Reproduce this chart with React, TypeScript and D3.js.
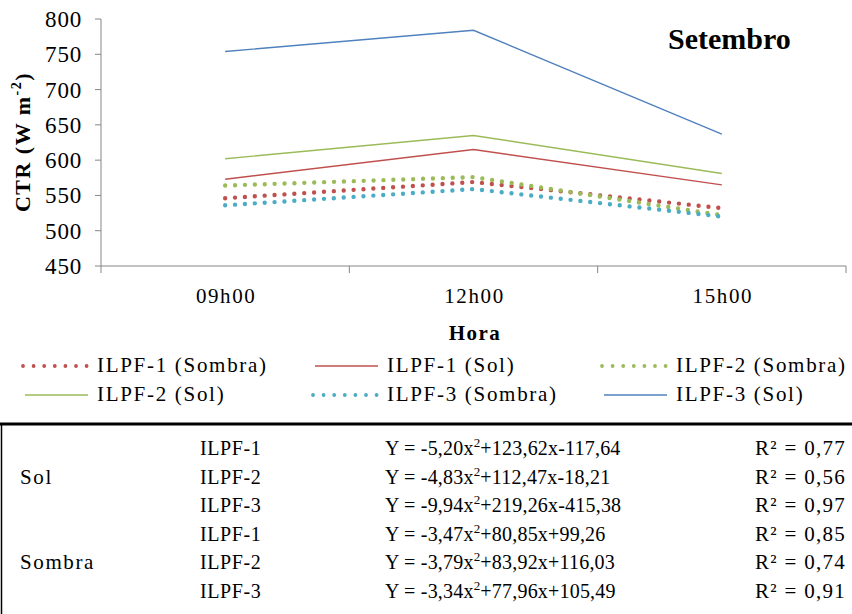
import React from 'react';
import * as d3 from 'd3';

const hours = ['09h00', '12h00', '15h00'];
const yTicks = [450, 500, 550, 600, 650, 700, 750, 800];

const ilpf1Sombra = [546, 569, 532];
const ilpf1Sol = [573, 615, 565];
const ilpf2Sombra = [564, 576, 522];
const ilpf2Sol = [602, 635, 581];
const ilpf3Sombra = [536, 559, 520];
const ilpf3Sol = [754, 784, 637];

const seriesNames = ['ILPF-1 (Sombra)', 'ILPF-1 (Sol)', 'ILPF-2 (Sombra)', 'ILPF-2 (Sol)', 'ILPF-3 (Sombra)', 'ILPF-3 (Sol)'];
const seriesValues = [ilpf1Sombra, ilpf1Sol, ilpf2Sombra, ilpf2Sol, ilpf3Sombra, ilpf3Sol];
const seriesColors = ['#C0504D', '#C0504D', '#9BBB59', '#9BBB59', '#4BACC6', '#4F81BD'];
const seriesDotted = [true, false, true, false, true, false];

const fitGroups = ['Sol', 'Sombra'];
const fitSystems = ['ILPF-1', 'ILPF-2', 'ILPF-3', 'ILPF-1', 'ILPF-2', 'ILPF-3'];
const fitA = ['-5,20', '-4,83', '-9,94', '-3,47', '-3,79', '-3,34'];
const fitRest = ['+123,62x-117,64', '+112,47x-18,21', '+219,26x-415,38', '+80,85x+99,26', '+83,92x+116,03', '+77,96x+105,49'];
const fitR2 = ['0,77', '0,56', '0,97', '0,85', '0,74', '0,91'];

const W = 852, H = 614;
const plot = { left: 101, right: 846, top: 19, bottom: 266 };
const font = '"Liberation Serif", "Times New Roman", serif';
const axisColor = '#868686';

export default function App() {
  const x = d3.scaleBand<string>().domain(hours).range([plot.left, plot.right]).padding(0);
  const y = d3.scaleLinear().domain([450, 800]).range([plot.bottom, plot.top]);
  const line = d3.line<number>()
    .x((_, i) => (x(hours[i]) as number) + x.bandwidth() / 2)
    .y(d => y(d));

  // solid lines first, dotted ones on top
  const order = [1, 3, 5, 0, 2, 4];

  const legendCols = [22, 312, 601];
  const legendRows = [372, 401];

  const rowY = d3.scaleLinear().domain([0, 5]).range([455, 598]);

  return (
    <svg width={W} height={H} style={{ position: 'absolute', left: 0, top: 0, background: '#fff' }}
      fontFamily={font}>
      <rect width={W} height={H} fill="#fff" />

      {/* axes */}
      <line x1={plot.left} x2={plot.left} y1={plot.top} y2={plot.bottom} stroke={axisColor} />
      <line x1={plot.left} x2={plot.right} y1={plot.bottom} y2={plot.bottom} stroke={axisColor} />
      {yTicks.map(t => (
        <g key={t}>
          <line x1={plot.left - 6} x2={plot.left} y1={y(t)} y2={y(t)} stroke={axisColor} />
          <text x={82} y={y(t) + 8} textAnchor="end" fontSize={23} letterSpacing={0.8} fill="#000">{t}</text>
        </g>
      ))}
      {[...hours.map(h => x(h) as number), plot.right].map((p, i) => (
        <line key={i} x1={p} x2={p} y1={plot.bottom} y2={plot.bottom + 7} stroke={axisColor} />
      ))}
      {hours.map(h => (
        <text key={h} x={(x(h) as number) + x.bandwidth() / 2 + 1} y={303} textAnchor="middle"
          fontSize={21} letterSpacing={1.6}>{h}</text>
      ))}
      <text x={475} y={340} textAnchor="middle" fontSize={21} fontWeight="bold" letterSpacing={1.5}>Hora</text>
      <text transform="translate(30,142) rotate(-90)" textAnchor="middle" fontSize={22} fontWeight="bold" letterSpacing={1.5}>
        CTR (W m<tspan fontSize={14} dy={-9}>-2</tspan><tspan dy={9}>)</tspan>
      </text>
      <text x={668} y={49} fontSize={30} fontWeight="bold" letterSpacing={0}>Setembro</text>

      {/* series */}
      {order.map(i => (
        <path key={i} d={line(seriesValues[i]) || ''} fill="none" stroke={seriesColors[i]}
          strokeWidth={seriesDotted[i] ? 4.4 : 1.4}
          strokeDasharray={seriesDotted[i] ? '0 9.9' : undefined}
          strokeLinecap={seriesDotted[i] ? 'round' : 'butt'} />
      ))}

      {/* legend */}
      {seriesNames.map((name, i) => {
        const lx = legendCols[i % 3];
        const ly = legendRows[Math.floor(i / 3)];
        return (
          <g key={name}>
            <line x1={lx + (seriesDotted[i] ? 1 : 3)} x2={lx + 66} y1={ly - 6} y2={ly - 6} stroke={seriesColors[i]}
              strokeWidth={seriesDotted[i] ? 3.8 : 1.4}
              strokeDasharray={seriesDotted[i] ? '0 10.6' : undefined}
              strokeLinecap={seriesDotted[i] ? 'round' : 'butt'} />
            <text x={lx + 75} y={ly} fontSize={21} letterSpacing={1.7}>{name}</text>
          </g>
        );
      })}

      {/* table */}
      <line x1={0} x2={W} y1={424} y2={424} stroke="#000" strokeWidth={3} />
      <line x1={1.5} x2={1.5} y1={424} y2={H} stroke="#000" strokeWidth={1.5} />
      {fitGroups.map((g, gi) => (
        <text key={g} x={20} y={rowY(gi * 3 + 1)} fontSize={21} letterSpacing={1.6}>{g}</text>
      ))}
      {fitSystems.map((s, i) => (
        <g key={i} fontSize={20}>
          <text x={200} y={rowY(i)} letterSpacing={0.6}>{s}</text>
          <text x={385} y={rowY(i)} letterSpacing={0.2}>
            Y = {fitA[i]}x<tspan fontSize={13} dy={-8}>2</tspan><tspan dy={8}>{fitRest[i]}</tspan>
          </text>
          <text x={755} y={rowY(i)} fontSize={21} letterSpacing={1.3}>R² = {fitR2[i]}</text>
        </g>
      ))}
    </svg>
  );
}
